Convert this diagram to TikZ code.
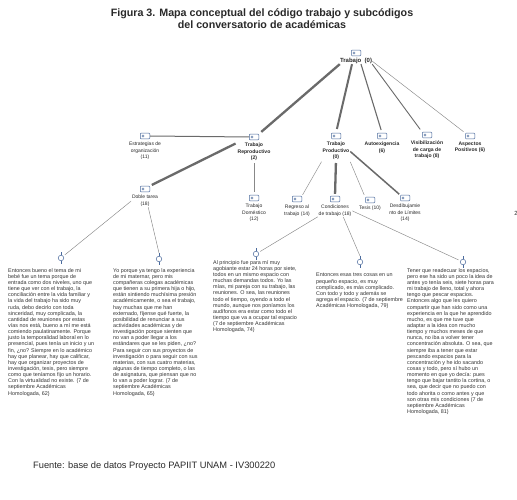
\documentclass[tikz,border=0pt]{standalone}
\usepackage{fontspec}
\setmainfont{Liberation Sans}
\usetikzlibrary{positioning}
\definecolor{iconblue}{HTML}{4A6A9C}
\definecolor{linkgray}{HTML}{6A6A6A}
\definecolor{txtgray}{HTML}{2A2A2A}
\begin{document}
\begin{tikzpicture}[x=1pt,y=-1pt,
	every node/.style={text=txtgray,inner sep=0pt},
	codeicon/.style={draw=iconblue,fill=white,line width=0.5pt,rounded corners=1pt,
		minimum width=9.5pt,minimum height=5.8pt,
		path picture={\draw[iconblue,line width=0.4pt] ([xshift=2.7pt]path picture bounding box.west) circle (1.1pt);}},
	codelbl/.style={align=center,font=\fontsize{5}{6.6}\selectfont},
	boldlbl/.style={align=center,font=\bfseries\fontsize{5.1}{6.6}\selectfont},
	quoteicon/.style={circle,draw=iconblue,line width=0.5pt,minimum size=5.5pt},
	quotetxt/.style={anchor=north west,align=left,font=\fontsize{5.4}{6.15}\selectfont,text=black!80},
	thicklink/.style={draw=linkgray,line width=2.3pt},
	midlink/.style={draw=linkgray,line width=1.1pt},
	thinlink/.style={draw=linkgray!80,line width=0.45pt}]
\useasboundingbox[fill=white] (0,0) rectangle (517,500);
\node[align=center,font=\bfseries\fontsize{10.7}{12}\selectfont] (title) at (262,19)
	{Figura 3. Mapa conceptual del código trabajo y subcódigos\\del conversatorio de académicas};
\node[codeicon] (trab) at (356,53) {};
\node[font=\bfseries\fontsize{6}{7}\selectfont,below=2pt of trab] (trabl) {Trabajo\ \ (0)};
\node[codeicon] (estr) at (145,136) {};
\node[codelbl,below=2.5pt of estr] (estrl) {Estrategias de\\organización\\(11)};
\node[codeicon] (rep) at (254,137) {};
\node[boldlbl,below=2.5pt of rep] (repl) {Trabajo\\Reproductivo\\(2)};
\node[codeicon] (prod) at (336,136) {};
\node[boldlbl,below=2.5pt of prod] (prodl) {Trabajo\\Productivo\\(0)};
\node[codeicon] (auto) at (382,136) {};
\node[boldlbl,below=2.5pt of auto] (autol) {Autoexigencia\\(6)};
\node[codeicon] (vis) at (427,135) {};
\node[boldlbl,below=2.5pt of vis] (visl) {Visibilización\\de carga de\\trabajo (8)};
\node[codeicon] (asp) at (470,136) {};
\node[boldlbl,below=2.5pt of asp] (aspl) {Aspectos\\Positivos (6)};
\node[codeicon] (doble) at (145,189) {};
\node[codelbl,below=2.5pt of doble] (doblel) {Doble tarea\\(18)};
\node[codeicon] (dom) at (254,198) {};
\node[codelbl,below=2.5pt of dom] (doml) {Trabajo\\Doméstico\\(12)};
\node[codeicon] (reg) at (297,199) {};
\node[codelbl,below=2.5pt of reg] (regl) {Regreso al\\trabajo (14)};
\node[codeicon] (cond) at (335,199) {};
\node[codelbl,below=2.5pt of cond] (condl) {Condiciones\\de trabajo (18)};
\node[codeicon] (tes) at (370,200) {};
\node[codelbl,below=2.5pt of tes] (tesl) {Tesis (10)};
\node[codeicon] (des) at (405,198) {};
\node[codelbl,below=2.5pt of des] (desl) {Desdibujamie\\nto de Límites\\(14)};
\node[quoteicon] (q1) at (61,258) {};
\node[quoteicon] (q2) at (159,259) {};
\node[quoteicon] (q3) at (256,254) {};
\node[quoteicon] (q4) at (360,262) {};
\node[quoteicon] (q5) at (463,262) {};
\foreach \q in {q1,q2,q3,q4,q5}
	\draw[iconblue,line width=0.5pt] (\q.north) -- ++(0,-3) coordinate (\q-t) (\q.south) -- ++(0,3);
\node[quotetxt] (t1) at (8,268) {Entonces bueno el tema de mi\\bebé fue un tema porque de\\entrada como dos niveles, uno que\\tiene que ver con el trabajo, la\\conciliación entre la vida familiar y\\la vida del trabajo ha sido muy\\ruda, debo decirlo con toda\\sinceridad, muy complicada, la\\cantidad de reuniones por estas\\vías nos está, bueno a mí me está\\comiendo paulatinamente. Porque\\justo la temporalidad laboral en lo\\presencial, pues tenía un inicio y un\\fin, ¿no? Siempre en lo académico\\hay que planear, hay que calificar,\\hay que organizar proyectos de\\investigación, tesis, pero siempre\\como que teníamos fijo un horario.\\Con la virtualidad no existe. (7 de\\septiembre Académicas\\Homologada, 62)};
\node[quotetxt] (t2) at (113,268) {Yo porque ya tengo la experiencia\\de mi maternar, pero mis\\compañeras colegas académicas\\que tienen a su primera hija o hijo,\\están sintiendo muchísima presión\\académicamente, o sea el trabajo,\\hay muchas que me han\\externado, fíjense qué fuerte, la\\posibilidad de renunciar a sus\\actividades académicas y de\\investigación porque sienten que\\no van a poder llegar a los\\estándares que se les piden, ¿no?\\Para seguir con sus proyectos de\\investigación o para seguir con sus\\materias, con sus cuatro materias,\\algunas de tiempo completo, o las\\de asignatura, que piensan que no\\lo van a poder lograr. (7 de\\septiembre Académicas\\Homologada, 65)};
\node[quotetxt] (t3) at (213,260) {Al principio fue para mí muy\\agobiante estar 24 horas por siete,\\todos en un mismo espacio con\\muchas demandas todos. Yo las\\mías, mi pareja con su trabajo, las\\reuniones. O sea, las reuniones\\todo el tiempo, oyendo a todo el\\mundo, aunque nos poníamos los\\audífonos era estar como todo el\\tiempo que va a ocupar tal espacio\\(7 de septiembre Académicas\\Homologada, 74)};
\node[quotetxt] (t4) at (316,273) {Entonces esas tres cosas en un\\pequeño espacio, es muy\\complicado, es más complicado.\\Con todo y todo y además se\\agrega el espacio. (7 de septiembre\\Académicas Homologada, 79)};
\node[quotetxt] (t5) at (407,268) {Tener que readecuar los espacios,\\pero ese ha sido un poco la idea de\\antes yo tenía seis, siete horas para\\mi trabajo de lleno, total y ahora\\tengo que pescar espacios.\\Entonces algo que les quiero\\compartir que han sido como una\\experiencia en la que he aprendido\\mucho, es que me tuve que\\adaptar a la idea con mucho\\tiempo y muchos meses de que\\nunca, no iba a volver tener\\concentración absoluta. O sea, que\\siempre iba a tener que estar\\pescando espacios para la\\concentración y he ido sacando\\cosas y todo, pero sí hubo un\\momento en que yo decía: pues\\tengo que bajar tantito la cortina, o\\sea, que decir que no puedo con\\todo ahorita o como antes y que\\son otras mis condiciones (7 de\\septiembre Académicas\\Homologada, 81)};
\node[anchor=west,font=\fontsize{9.3}{11}\selectfont] (fuente) at (33,466) {Fuente: base de datos Proyecto PAPIIT UNAM - IV300220};
\node[font=\fontsize{6}{7}\selectfont] (pg) at (516,213) {2};
\draw[thicklink,shorten >=3pt] (trabl.south west) -- (rep.north east);
\draw[thicklink,line width=2pt,shorten >=4pt] ([xshift=-4pt]trabl.south) -- (prod.north);
\draw[midlink,shorten >=3pt] ([xshift=5pt]trabl.south) -- (auto.north);
\draw[midlink,line width=0.9pt,shorten >=3pt] (trabl.south east) -- (vis.north west);
\draw[thinlink,shorten >=2pt] (trabl.east) -- (asp.north west);
\draw[midlink,line width=1pt] (rep.west) -- (estr.east);
\draw[thicklink,shorten <=2pt,shorten >=2pt] (repl.north west) -- (doble.north east);
\draw[thinlink,shorten <=2pt,shorten >=3pt] (repl.south) -- (dom.north);
\draw[thinlink,shorten <=2pt,shorten >=1pt] (prodl.south west) -- (reg.north east);
\draw[thicklink,shorten <=3pt,shorten >=2pt] (prodl.south) -- (cond.north);
\draw[thinlink,shorten <=2pt,shorten >=2pt] (prodl.south east) -- (tes.north west);
\draw[midlink,line width=1.5pt,shorten <=1pt,shorten >=1pt] (prodl.east) -- (des.north west);
\draw[thinlink,shorten <=1pt,shorten >=2pt] (doblel.west) -- (q1);
\draw[thinlink,shorten <=1pt] ([xshift=3pt]doblel.south) -- (q2-t);
\draw[thinlink,shorten <=1pt,shorten >=2pt] (condl.south west) -- (q3);
\draw[thinlink,shorten <=1pt] ([xshift=8pt]condl.south) -- (q4-t);
\draw[thinlink,shorten <=1pt,shorten >=2pt] (condl.east) -- (q5);
\end{tikzpicture}
\end{document}
